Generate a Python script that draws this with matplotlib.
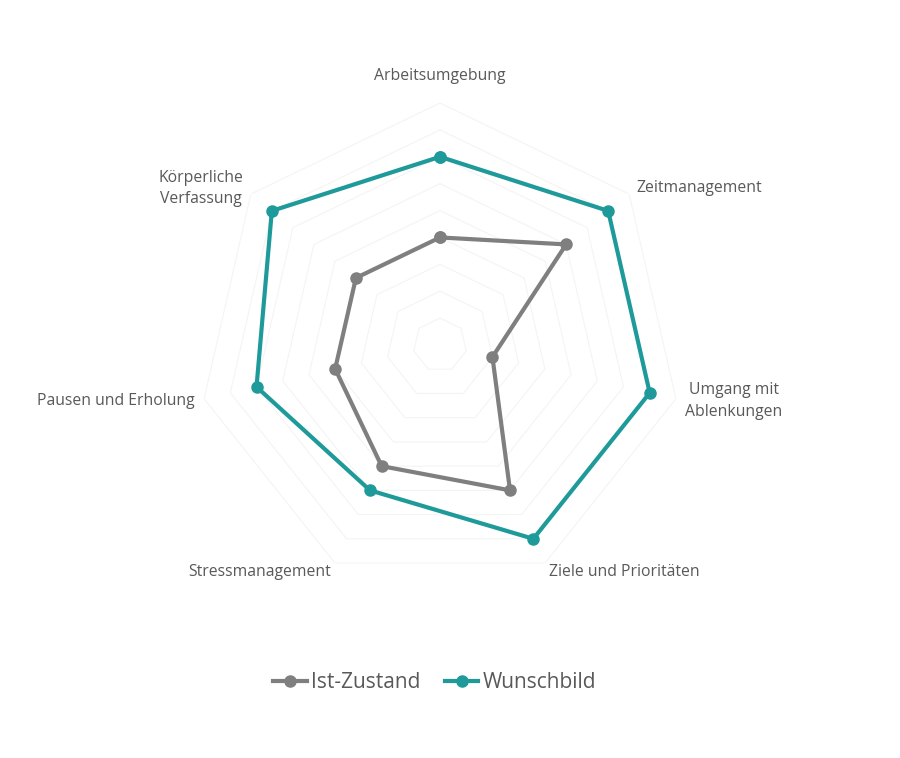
import numpy as np
import matplotlib
matplotlib.use("Agg")
import matplotlib.pyplot as plt

# data
categories = ["Arbeitsumgebung", "Zeitmanagement", "Umgang mit\nAblenkungen",
              "Ziele und Prioritäten", "Stressmanagement", "Pausen und Erholung",
              "Körperliche\nVerfassung"]
ist_zustand = [4, 6, 2, 6, 5, 4, 4]
wunschbild = [7, 8, 8, 8, 6, 7, 8]
series_names = ["Ist-Zustand", "Wunschbild"]
r_max = 9

gray = "#7f7f7f"
teal = "#1f9a9b"
text_col = "#595959"

plt.rcParams["font.family"] = ["Open Sans", "DejaVu Sans"]

fig = plt.figure(figsize=(9, 7.58), dpi=100)
ax = fig.add_axes([0.22, 0.2256, 0.5378, 0.6385], projection="polar")
ax.set_theta_offset(np.pi / 2)
ax.set_theta_direction(-1)
ax.set_ylim(0, r_max)
ax.grid(False)
ax.spines["polar"].set_visible(False)
ax.set_xticks([])
ax.set_yticks([])
ax.patch.set_alpha(0)

n = len(categories)
angles = np.linspace(0, 2 * np.pi, n, endpoint=False)
closed = np.append(angles, angles[0])

# faint grid rings
for r in range(1, r_max + 1):
    ax.plot(closed, [r] * (n + 1), color="#f4f4f4", lw=0.8, zorder=1)

# series
ax.plot(closed, ist_zustand + ist_zustand[:1], color=gray, lw=3, marker="o",
        markersize=8, zorder=3, label=series_names[0])
ax.plot(closed, wunschbild + wunschbild[:1], color=teal, lw=3, marker="o",
        markersize=8, zorder=3, label=series_names[1])

# category labels
fs = 11.3
for ang, lab in zip(angles, categories):
    deg = np.degrees(ang)
    if deg < 1:
        ax.text(ang, r_max + 1.0, lab, ha="center", va="center",
                fontsize=fs, color=text_col)
    elif deg < 180:
        ax.text(ang, r_max + 0.35, lab, ha="left", va="center", linespacing=1.45,
                fontsize=fs, color=text_col, multialignment="center")
    else:
        ax.text(ang, r_max + 0.35, lab, ha="right", va="center", linespacing=1.45,
                fontsize=fs, color=text_col, multialignment="center")

leg = fig.legend(loc="center", bbox_to_anchor=(0.483, 0.099), ncol=2,
                 frameon=False, fontsize=15, handlelength=1.6,
                 handletextpad=0.2, columnspacing=1.2)
for t in leg.get_texts():
    t.set_color(text_col)

fig.savefig("out.png", dpi=100, facecolor="white")
